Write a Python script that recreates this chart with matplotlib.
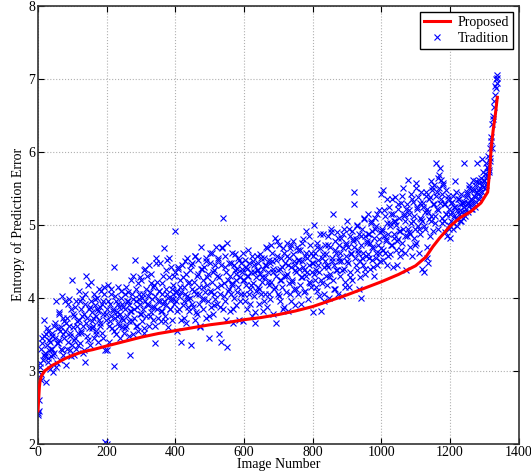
import numpy as np
import matplotlib
matplotlib.use("Agg")
import matplotlib.pyplot as plt

# Proposed method: sorted entropy curve (image number, entropy)
proposed_x = [0, 2, 4, 6, 10, 20, 40, 60, 80, 100, 130, 160, 200, 250, 300, 350,
              400, 450, 500, 550, 600, 650, 700, 750, 800, 850, 900, 950, 1000,
              1050, 1100, 1130, 1150, 1170, 1200, 1230, 1260, 1290, 1310, 1316,
              1320, 1326, 1332, 1338]
proposed_y = [2.45, 2.62, 2.78, 2.86, 2.93, 3.00, 3.07, 3.12, 3.17, 3.21, 3.26, 3.29,
              3.34, 3.40, 3.46, 3.51, 3.55, 3.59, 3.63, 3.66, 3.70, 3.73, 3.77,
              3.82, 3.88, 3.96, 4.04, 4.13, 4.22, 4.32, 4.44, 4.56, 4.70, 4.82,
              4.98, 5.10, 5.18, 5.30, 5.45, 5.75, 6.05, 6.30, 6.50, 6.75]

# Traditional method, images 0, 2, 4, ..., 1338
tradition_x = list(range(0, 1340, 2))
tradition_y = [
    2.42, 2.60, 2.45, 3.05, 3.30, 2.88, 3.45, 3.15, 3.22, 3.70,
    3.25, 3.50, 2.84, 3.35, 3.18, 3.55, 3.28, 3.02, 3.40, 3.20,
    3.30, 3.52, 2.98, 3.62, 3.25, 3.45, 3.95, 3.10, 3.38, 3.58,
    3.42, 3.78, 3.15, 3.60, 3.30, 4.02, 3.50, 3.22, 3.68, 3.95,
    3.55, 3.08, 3.72, 3.40, 3.92, 3.62, 3.28, 3.48, 3.85, 3.35,
    4.25, 3.60, 3.22, 3.75, 3.45, 3.95, 3.30, 3.68, 3.52, 4.10,
    3.70, 3.38, 3.85, 3.55, 4.00, 3.25, 3.62, 3.78, 3.12, 3.92,
    4.30, 3.48, 3.72, 4.18, 3.58, 3.88, 3.35, 3.95, 3.68, 3.80,
    3.62, 4.05, 3.45, 3.90, 3.75, 3.55, 4.00, 3.82, 3.40, 3.70,
    3.88, 3.65, 4.10, 3.52, 3.95, 3.78, 4.15, 2.02, 3.28, 3.70,
    2.00, 3.85, 4.18, 3.62, 3.40, 3.92, 3.75, 4.05, 3.58, 3.85,
    4.42, 3.07, 3.72, 3.95, 3.50, 3.80, 4.15, 3.65, 3.88, 3.45,
    3.78, 4.00, 3.60, 3.92, 3.70, 3.52, 4.05, 3.85, 3.62, 3.95,
    3.75, 4.08, 3.48, 3.90, 3.22, 4.25, 3.82, 3.68, 3.98, 4.30,
    3.72, 4.52, 3.95, 3.62, 3.88, 4.20, 3.55, 4.05, 3.78, 3.92,
    4.25, 3.68, 4.00, 3.85, 4.38, 3.58, 3.95, 4.12, 3.75, 4.30,
    3.90, 4.45, 3.62, 4.08, 3.80, 4.20, 3.98, 3.70, 4.15, 3.88,
    3.38, 4.02, 4.55, 3.85, 4.22, 3.72, 4.10, 3.95, 4.48, 3.68,
    4.05, 3.82, 4.30, 3.95, 4.68, 3.75, 4.12, 3.90, 4.52, 3.60,
    4.00, 4.28, 3.85, 4.42, 3.98, 3.70, 4.18, 4.05, 3.92, 4.35,
    4.92, 3.95, 4.10, 3.55, 4.40, 4.02, 3.85, 4.25, 3.40, 4.08,
    4.45, 3.90, 4.15, 3.72, 4.05, 4.32, 3.65, 4.55, 3.98, 4.20,
    3.82, 4.38, 4.00, 3.35, 4.12, 4.48, 3.88, 4.22, 3.70, 4.58,
    4.05, 3.78, 4.30, 4.52, 3.92, 4.15, 3.60, 4.40, 4.70, 3.98,
    4.25, 3.85, 4.42, 4.08, 3.72, 4.55, 4.18, 3.95, 4.32, 3.45,
    4.10, 4.48, 3.88, 4.62, 4.22, 3.78, 4.05, 4.38, 3.98, 4.70,
    4.15, 3.92, 4.52, 3.50, 4.28, 4.05, 4.45, 3.40, 4.68, 3.85,
    5.10, 4.20, 3.95, 4.58, 4.35, 4.75, 3.32, 4.10, 4.48, 3.82,
    4.30, 4.05, 4.62, 4.18, 3.65, 4.45, 4.00, 4.38, 4.25, 3.90,
    4.40, 4.15, 4.55, 3.70, 4.28, 4.48, 4.05, 4.35, 4.62, 3.68,
    4.25, 4.52, 3.95, 4.18, 4.40, 3.85, 4.30, 4.05, 4.48, 4.12,
    4.35, 3.75, 4.58, 4.20, 4.02, 4.45, 3.65, 4.28, 4.10, 4.38,
    4.15, 4.48, 3.92, 4.32, 4.60, 4.05, 4.22, 3.82, 4.40, 4.55,
    4.28, 4.05, 4.45, 4.68, 3.88, 4.35, 4.18, 4.52, 3.98, 4.72,
    4.22, 4.50, 3.78, 4.40, 4.12, 4.82, 3.65, 4.30, 4.58, 4.05,
    4.38, 4.72, 3.95, 4.25, 4.55, 4.15, 4.42, 3.85, 4.62, 4.30,
    4.48, 4.08, 4.75, 4.32, 3.82, 4.55, 4.20, 4.68, 3.95, 4.42,
    4.25, 4.60, 4.78, 4.12, 4.45, 3.90, 4.35, 4.70, 4.05, 4.52,
    4.40, 4.18, 4.65, 3.92, 4.50, 4.28, 4.80, 4.08, 4.38, 4.58,
    4.92, 4.30, 4.55, 3.98, 4.45, 4.22, 4.72, 4.15, 4.62, 4.35,
    4.48, 3.80, 5.00, 4.25, 4.62, 4.38, 4.10, 4.75, 4.52, 4.02,
    4.35, 4.68, 3.82, 4.55, 4.20, 4.88, 4.42, 4.05, 4.72, 4.30,
    4.60, 4.18, 4.85, 4.42, 4.00, 4.70, 4.32, 4.95, 4.50, 4.25,
    5.15, 4.45, 4.78, 4.12, 4.62, 4.38, 4.90, 4.05, 4.55, 4.72,
    4.30, 4.82, 4.50, 4.02, 4.68, 4.40, 4.95, 4.22, 4.75, 4.58,
    5.05, 4.48, 4.70, 4.15, 4.85, 4.35, 4.62, 4.92, 4.25, 4.78,
    5.28, 5.45, 4.55, 4.80, 4.38, 4.98, 4.65, 4.12, 4.88, 4.50,
    4.00, 4.72, 4.95, 4.45, 4.62, 5.08, 4.32, 4.85, 4.58, 4.78,
    5.15, 4.60, 4.88, 4.40, 4.75, 5.02, 4.52, 4.92, 4.68, 4.30,
    4.82, 5.10, 4.55, 4.98, 4.45, 4.72, 5.20, 4.62, 4.90, 5.42,
    4.68, 4.95, 5.48, 4.52, 4.85, 5.12, 4.62, 4.78, 5.02, 4.45,
    4.88, 5.25, 4.60, 4.98, 5.15, 4.72, 5.35, 4.42, 4.82, 5.05,
    5.38, 4.65, 5.00, 4.45, 5.22, 4.80, 5.10, 4.58, 4.92, 5.30,
    4.75, 5.50, 4.95, 5.15, 4.62, 5.05, 4.38, 5.28, 4.85, 5.62,
    4.90, 5.20, 4.70, 5.42, 5.02, 4.58, 5.32, 4.82, 5.12, 4.95,
    5.58, 4.75, 5.25, 4.98, 5.38, 4.62, 5.10, 4.88, 5.45, 5.05,
    4.40, 5.30, 4.35, 5.18, 4.95, 5.40, 4.70, 5.22, 4.48, 5.08,
    5.35, 4.85, 5.60, 5.12, 5.48, 4.92, 5.28, 5.55, 5.02, 5.40,
    5.85, 5.22, 5.65, 4.95, 5.50, 5.78, 5.30, 5.62, 5.10, 5.42,
    5.58, 5.05, 5.28, 4.90, 5.48, 5.15, 4.85, 5.35, 5.00, 5.22,
    4.82, 5.30, 5.05, 5.18, 4.95, 5.40, 5.12, 5.60, 5.25, 5.08,
    5.20, 4.98, 5.35, 5.15, 5.28, 5.05, 5.42, 5.18, 5.30, 5.10,
    5.25, 5.85, 5.12, 5.38, 5.22, 5.45, 5.30, 5.18, 5.50, 5.28,
    5.35, 5.22, 5.48, 5.30, 5.62, 5.40, 5.25, 5.55, 5.32, 5.45,
    5.85, 5.42, 5.58, 5.35, 5.50, 5.65, 5.45, 5.90, 5.52, 5.60,
    5.62, 5.70, 5.55, 5.85, 5.68, 5.95, 5.78, 5.72, 6.05, 5.88,
    6.20, 6.05, 6.38, 6.45, 6.62, 6.78, 6.90, 7.00, 7.05, 6.95,
]

# Traditional method, images 1, 5, 9, ..., 1337
tradition_x2 = list(range(1, 1340, 4))
tradition_y2 = [
    2.40, 3.10, 2.95, 3.38, 3.48, 3.20, 3.58, 3.12, 3.42, 3.30,
    3.48, 3.22, 3.65, 3.05, 3.38, 3.80, 3.55, 3.28, 3.72, 3.45,
    3.65, 3.30, 3.98, 3.52, 3.20, 3.78, 3.42, 3.88, 3.62, 3.35,
    3.95, 3.52, 3.75, 3.28, 4.05, 3.65, 3.42, 3.85, 4.22, 3.58,
    3.72, 3.98, 3.50, 3.85, 4.12, 3.62, 3.92, 3.45, 4.05, 3.78,
    3.28, 3.95, 3.68, 4.12, 3.82, 3.55, 4.02, 3.75, 3.92, 3.62,
    4.10, 3.72, 3.88, 3.58, 4.15, 3.95, 3.68, 3.82, 4.05, 3.50,
    3.85, 4.12, 3.62, 3.98, 4.28, 3.78, 4.05, 3.52, 4.40, 3.92,
    4.02, 3.75, 4.32, 3.88, 4.18, 3.62, 4.48, 3.95, 4.10, 3.82,
    4.20, 3.92, 3.68, 4.38, 4.05, 4.55, 3.85, 4.12, 3.98, 4.30,
    4.08, 3.82, 4.42, 4.15, 3.70, 4.28, 3.95, 4.50, 4.02, 3.88,
    4.22, 4.45, 3.92, 4.10, 4.58, 3.80, 4.32, 4.05, 3.62, 4.40,
    4.15, 3.98, 4.50, 4.28, 3.75, 4.62, 4.08, 4.35, 3.90, 4.45,
    4.30, 4.55, 3.88, 4.18, 4.70, 4.02, 4.42, 3.70, 4.25, 4.12,
    4.48, 4.20, 3.85, 4.60, 4.32, 4.08, 4.52, 3.95, 4.40, 4.25,
    4.05, 4.42, 4.30, 4.65, 3.92, 4.18, 4.50, 4.35, 3.80, 4.58,
    4.38, 4.12, 4.55, 4.28, 3.95, 4.45, 4.70, 4.22, 4.05, 4.48,
    4.62, 4.35, 4.15, 4.52, 4.78, 4.02, 4.40, 4.25, 4.68, 3.88,
    4.30, 4.58, 4.45, 4.05, 4.72, 4.22, 4.50, 4.38, 4.12, 4.65,
    4.52, 4.28, 4.75, 4.42, 4.10, 4.62, 4.35, 4.85, 4.20, 4.48,
    4.58, 4.32, 4.15, 4.70, 4.45, 4.88, 4.25, 4.60, 3.95, 4.50,
    4.45, 4.72, 4.28, 4.90, 4.55, 4.12, 4.65, 4.38, 4.82, 4.50,
    4.62, 4.38, 4.88, 4.15, 4.72, 4.50, 4.95, 4.28, 4.60, 4.80,
    4.70, 4.45, 5.00, 4.62, 4.28, 4.85, 4.55, 5.10, 4.40, 4.75,
    4.88, 4.55, 5.05, 4.70, 4.42, 4.95, 4.62, 5.15, 4.80, 4.50,
    4.92, 4.65, 5.20, 4.80, 5.35, 4.58, 5.02, 4.72, 5.15, 4.88,
    5.05, 4.78, 5.28, 4.92, 4.65, 5.40, 5.12, 4.85, 5.22, 4.95,
    5.15, 4.88, 5.35, 5.05, 4.72, 5.50, 5.22, 4.95, 5.30, 5.08,
    5.25, 4.98, 5.45, 4.55, 5.18, 5.38, 5.05, 5.52, 5.28, 5.12,
    5.45, 5.20, 5.68, 5.35, 5.02, 5.55, 5.28, 5.15, 5.40, 4.95,
    5.15, 5.32, 5.02, 5.25, 5.45, 5.10, 5.35, 5.20, 5.05, 5.30,
    5.32, 5.18, 5.42, 5.28, 5.55, 5.35, 5.22, 5.48, 5.38, 5.60,
    5.48, 5.62, 5.40, 5.55, 5.72, 5.50, 5.65, 5.80, 5.75, 5.92,
    6.15, 6.50, 6.70, 6.88, 7.02,
]

plt.rcParams['font.family'] = ['Liberation Serif', 'DejaVu Serif']
plt.rcParams['font.size'] = 10

fig = plt.figure(figsize=(5.31, 4.73), dpi=100)
ax = fig.add_axes([0.0716, 0.062, 0.905, 0.925])

ax.plot(tradition_x + tradition_x2, tradition_y + tradition_y2, linestyle='none',
        marker='x', markersize=4, markeredgewidth=0.8, color='#0000ff',
        label='Tradition', zorder=2)
ax.plot(proposed_x, proposed_y, color='#ff0000', linewidth=2.2,
        label='Proposed', zorder=3)

ax.set_xlim(0, 1400)
ax.set_ylim(2, 8)
ax.set_xticks(range(0, 1401, 200))
ax.set_yticks(range(2, 9))
ax.set_xlabel('Image Number', labelpad=-1)
ax.set_ylabel('Entropy of Prediction Error', labelpad=2)

ax.grid(True, linestyle=':', color='#b0b0b0', linewidth=0.8)
ax.tick_params(direction='in', top=True, right=True, length=4, pad=2)
for s in ax.spines.values():
    s.set_linewidth(1.2)
    s.set_color('#333333')

handles, labels = ax.get_legend_handles_labels()
leg = ax.legend(handles[::-1], labels[::-1], loc='upper right', fancybox=False,
                edgecolor='black', framealpha=1, borderaxespad=0.4,
                handlelength=1.9, handletextpad=0.5, borderpad=0.3,
                labelspacing=0.2)
leg.get_frame().set_linewidth(1.0)

fig.savefig('out.png', dpi=100)
